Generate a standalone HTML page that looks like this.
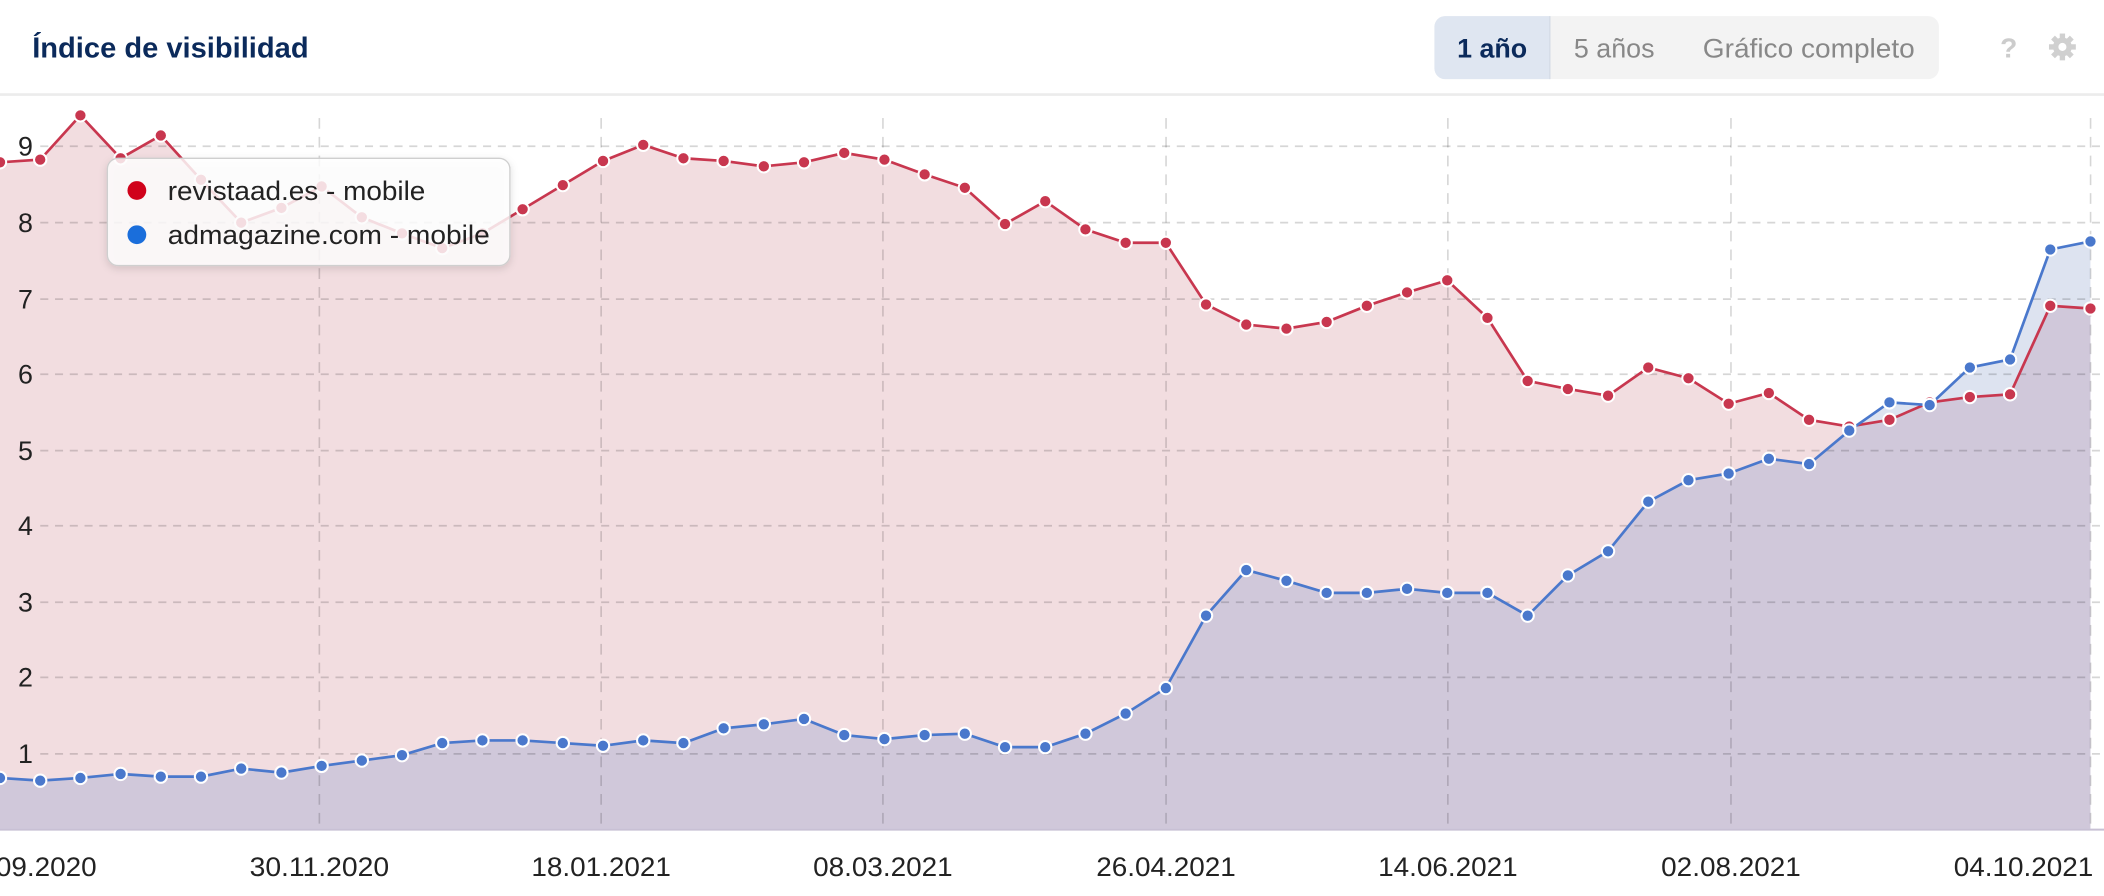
<!DOCTYPE html>
<html><head><meta charset="utf-8"><style>
html,body{margin:0;padding:0;background:#fff;width:2104px;height:896px;overflow:hidden}
svg{display:block}
</style></head><body>
<svg width="2104" height="896" viewBox="0 0 1568 668" preserveAspectRatio="none" xmlns="http://www.w3.org/2000/svg" font-family="Liberation Sans, sans-serif">
<defs>
<filter id="sh" x="-10%" y="-20%" width="120%" height="150%"><feDropShadow dx="0" dy="2" stdDeviation="3" flood-color="#000" flood-opacity="0.15"/></filter>
</defs>
<rect x="0" y="0" width="1568" height="668" fill="#fff"/>
<text x="24" y="43" font-size="21.5" font-weight="bold" fill="#0b2a5b" textLength="206" lengthAdjust="spacingAndGlyphs">Índice de visibilidad</text>
<rect x="1069" y="12" width="376" height="47" rx="8" fill="#f3f3f3"/>
<path d="M1077,12 H1155 V59 H1077 A8,8 0 0 1 1069,51 V20 A8,8 0 0 1 1077,12Z" fill="#dfe6f1"/>
<line x1="1155" y1="12" x2="1155" y2="59" stroke="#d5dbe6"/>
<text x="1112" y="43" font-size="20" font-weight="bold" fill="#0b2a5b" text-anchor="middle">1 año</text>
<text x="1203" y="43" font-size="20" fill="#888" text-anchor="middle">5 años</text>
<text x="1348" y="43" font-size="20" fill="#888" text-anchor="middle" textLength="158" lengthAdjust="spacingAndGlyphs">Gráfico completo</text>
<text x="1497" y="43" font-size="21" font-weight="bold" fill="#ccc" text-anchor="middle">?</text>
<g transform="translate(1537,35)" fill="#d0d0d0"><circle r="7"/><g stroke="#d0d0d0" stroke-width="4"><line x1="0" y1="-10" x2="0" y2="10"/><line x1="-10" y1="0" x2="10" y2="0"/><line x1="-7" y1="-7" x2="7" y2="7"/><line x1="-7" y1="7" x2="7" y2="-7"/></g><circle r="3" fill="#fff"/></g>
<line x1="0" y1="70.5" x2="1568" y2="70.5" stroke="#ececec" stroke-width="2"/>

<g id="chart"></g>
<line x1="0" y1="618.5" x2="1568" y2="618.5" stroke="#c8c0d4" stroke-width="1.5"/>
<g font-size="20" fill="#222" text-anchor="middle">
<text x="19" y="116">9</text><text x="19" y="173">8</text><text x="19" y="230">7</text><text x="19" y="286">6</text><text x="19" y="343">5</text><text x="19" y="399">4</text><text x="19" y="456">3</text><text x="19" y="512">2</text><text x="19" y="569">1</text>
</g>
<g font-size="20" fill="#222" text-anchor="middle">
<text x="20" y="653" textLength="104" lengthAdjust="spacingAndGlyphs">07.09.2020</text>
<text x="238" y="653" textLength="104" lengthAdjust="spacingAndGlyphs">30.11.2020</text><text x="448" y="653" textLength="104" lengthAdjust="spacingAndGlyphs">18.01.2021</text><text x="658" y="653" textLength="104" lengthAdjust="spacingAndGlyphs">08.03.2021</text><text x="869" y="653" textLength="104" lengthAdjust="spacingAndGlyphs">26.04.2021</text><text x="1079" y="653" textLength="104" lengthAdjust="spacingAndGlyphs">14.06.2021</text><text x="1290" y="653" textLength="104" lengthAdjust="spacingAndGlyphs">02.08.2021</text><text x="1508" y="653" textLength="104" lengthAdjust="spacingAndGlyphs">04.10.2021</text>
</g>
<g filter="url(#sh)"><rect x="80" y="118" width="300" height="80" rx="8" fill="#fff" fill-opacity="0.82" stroke="#cfcfcf"/></g>
<circle cx="102" cy="142" r="7" fill="#d0021b"/>
<text x="125" y="149" font-size="20" fill="#222" textLength="192" lengthAdjust="spacingAndGlyphs">revistaad.es - mobile</text>
<circle cx="102" cy="175" r="7" fill="#1a6edb"/>
<text x="125" y="182" font-size="20" fill="#222" textLength="240" lengthAdjust="spacingAndGlyphs">admagazine.com - mobile</text>
</svg>
<script>
var R=[121,119,86,118,101,134,166,155,139,162,174,185,174,156,138,120,108,118,120,124,121,114,119,130,140,167,150,171,181,181,227,242,245,240,228,218,209,237,284,290,295,274,282,301,293,313,318,313,300,296,294,228,230];
var B=[580,582,580,577,579,579,573,576,571,567,563,554,552,552,554,556,552,554,543,540,536,548,551,548,547,557,557,547,532,513,459,425,433,442,442,439,442,442,459,429,411,374,358,353,342,346,321,300,302,274,268,186,180];
function X(i){return i*29.96;}
var ns="http://www.w3.org/2000/svg",g=document.getElementById('chart');
function el(t,a){var e=document.createElementNS(ns,t);for(var k in a)e.setAttribute(k,a[k]);g.appendChild(e);return e;}
function pts(A){return A.map(function(y,i){return X(i).toFixed(1)+','+y;}).join(' ');}
function area(A){return '0,618 '+pts(A)+' '+X(A.length-1).toFixed(1)+',618';}
var d=el('defs',{});var cp=document.createElementNS(ns,'clipPath');cp.setAttribute('id','rc');d.appendChild(cp);
var cpp=document.createElementNS(ns,'polygon');cpp.setAttribute('points',area(R));cp.appendChild(cpp);
el('polygon',{points:area(R),fill:'#f2dde0'});
el('polygon',{points:area(B),fill:'#dde3f0'});
el('polygon',{points:area(B),fill:'#d0c8da','clip-path':'url(#rc)'});
[109,166,223,279,336,392,449,505,562].forEach(function(y){el('line',{x1:30,y1:y,x2:1568,y2:y,stroke:'#000','stroke-opacity':0.16,'stroke-dasharray':'6,5','stroke-width':1.3});});
[238,448,658,869,1079,1290,1558].forEach(function(x){el('line',{x1:x,y1:88,x2:x,y2:618,stroke:'#000','stroke-opacity':0.16,'stroke-dasharray':'8,6','stroke-width':1.2});});
el('polyline',{points:pts(R),fill:'none',stroke:'#c8374f','stroke-width':2});
el('polyline',{points:pts(B),fill:'none',stroke:'#4a78cc','stroke-width':2});
R.forEach(function(y,i){el('circle',{cx:X(i),cy:y,r:4.6,fill:'#c8374f',stroke:'#fff','stroke-width':1.5});});
B.forEach(function(y,i){el('circle',{cx:X(i),cy:y,r:4.6,fill:'#4a78cc',stroke:'#fff','stroke-width':1.5});});
</script>
</body></html>
